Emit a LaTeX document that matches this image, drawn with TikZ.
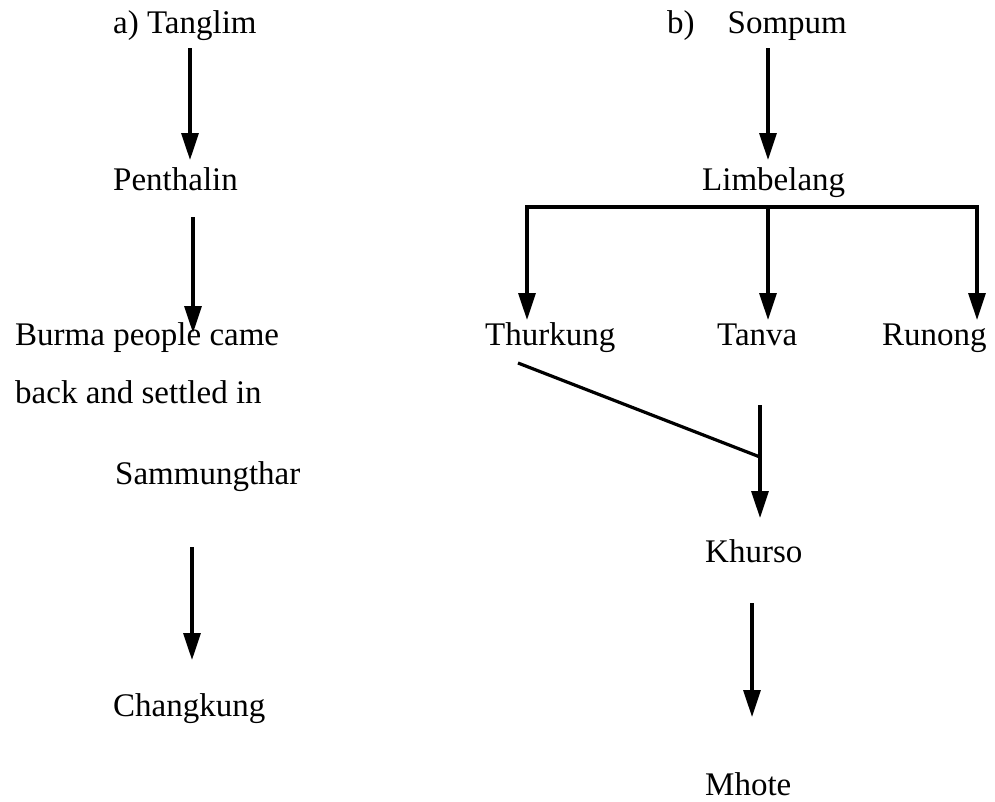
\documentclass[tikz,border=0pt]{standalone}
\usepackage{fontspec}
\setmainfont{Liberation Serif}
\usetikzlibrary{arrows.meta}
\begin{document}
\begin{tikzpicture}[x=1pt,y=-1pt,
  lbl/.style={anchor=base west,inner sep=0pt,font=\fontsize{33}{40}\selectfont},
  conn/.style={line width=3.2pt},
  arr/.style={conn,-{Triangle[width=17pt,length=27pt]}}]
\useasboundingbox (0,0) rectangle (995,801);
% left column
\node[lbl] (tanglim) at (113,33) {a) Tanglim};
\node[lbl] (penthalin) at (113,190) {Penthalin};
\node[lbl] (burma1) at (15,345) {Burma people came};
\node[lbl] (burma2) at (15,403) {back and settled in};
\node[lbl] (samm) at (115,484) {Sammungthar};
\node[lbl] (chang) at (113,716) {Changkung};
% right column
\node[lbl] (sompum) at (667,33) {b)\quad Sompum};
\node[lbl] (limb) at (702,190) {Limbelang};
\node[lbl] (thur) at (485,345) {Thurkung};
\node[lbl] (tanva) at (717,345) {Tanva};
\node[lbl] (runong) at (882,345) {Runong};
\node[lbl] (khurso) at (705,562) {Khurso};
\node[lbl] (mhote) at (705,795) {Mhote};
% connector coordinates
\coordinate (a1s) at (190,48);  \coordinate (a1e) at (190,160);
\coordinate (a2s) at (193,217); \coordinate (a2e) at (193,333);
\coordinate (a3s) at (192,547); \coordinate (a3e) at (192,660);
\coordinate (b1s) at (768,48);  \coordinate (b1e) at (768,160);
\coordinate (barM) at (768,207);
\coordinate (thurT) at (527,320);
\coordinate (tanT) at (768,320);
\coordinate (runT) at (977,320);
\coordinate (diagS) at (518,363);
\coordinate (khS) at (760,405);
\coordinate (khJ) at (760,457);
\coordinate (khE) at (760,518);
\coordinate (mhS) at (752,603);
\coordinate (mhE) at (752,717);
% connectors
\draw[arr] (a1s) -- (a1e);
\draw[arr] (a2s) -- (a2e);
\draw[arr] (a3s) -- (a3e);
\draw[arr] (b1s) -- (b1e);
\draw[arr] (barM) -| (thurT);
\draw[arr] (barM) -| (runT);
\draw[arr] (barM) -- (tanT);
\draw[conn] (diagS) -- (khJ);
\draw[arr] (khS) -- (khE);
\draw[arr] (mhS) -- (mhE);
\end{tikzpicture}
\end{document}
